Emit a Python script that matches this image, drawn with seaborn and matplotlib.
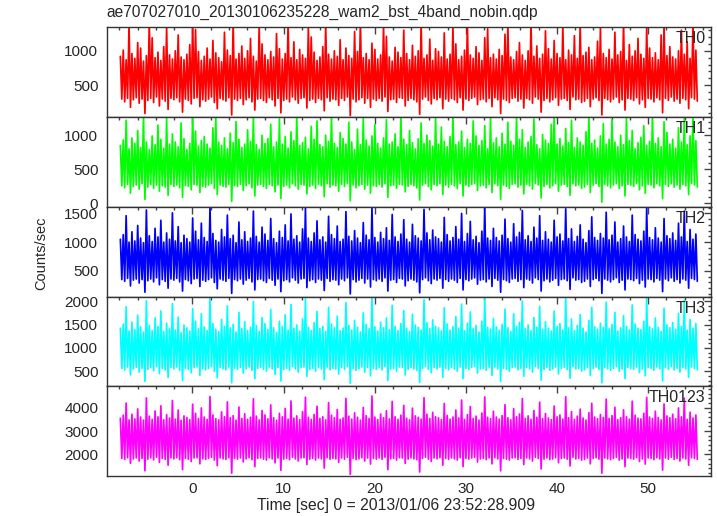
import numpy as np
import seaborn as sns
import matplotlib.pyplot as plt
from matplotlib.ticker import MultipleLocator

# light curve, WAM2 bst 4 band: upper (peak) and lower (trough) values
t_start = -7.9
t_stop = 55.4

th0_hi = [920, 1010, 870, 1380, 960, 890, 1120, 1040, 850, 930,
          1430, 1190, 900, 980, 860, 1060, 1350, 940, 880, 1000,
          1230, 910, 870, 950, 1090, 1400, 1310, 990, 860, 920,
          1040, 880, 1150, 970, 900, 840, 1270, 1010, 930, 1420,
          880, 960, 1070, 890, 1000, 1180, 920, 850, 1360, 1100,
          940, 870, 990, 910, 1250, 1030, 880, 960, 1410, 900,
          1130, 870, 1020, 940, 890, 1340, 1200, 980, 860, 910,
          1060, 1390, 950, 880, 1000, 920, 1160, 870, 1040, 930,
          890, 1280, 990, 1440, 900, 960, 870, 1110, 1020, 880,
          940, 1370, 1210, 910, 850, 1050, 980, 900, 1300, 960,
          870, 1080, 920, 1000, 1420, 890, 940, 1170, 860, 1030,
          990, 910, 1260, 880, 950, 1350, 1100, 870, 920, 1010,
          1400, 940, 890, 1060, 970, 860, 1190, 1320, 900, 950,
          880, 1020, 930, 1240, 1380, 910, 870, 990, 1120, 940,
          860, 1000, 1430, 920, 1070, 890, 950, 1290, 1030, 880,
          1150, 960, 900, 1360, 870, 1010, 940, 1220, 890, 1400,
          930, 980, 1050, 870, 910, 1140, 1330, 960, 900, 1020,
          880, 1270, 940, 990, 1410, 860, 1090, 920, 1000, 1180,
          950, 890, 1350, 1040, 900, 970, 870, 1230, 1390, 930,
          1060, 910, 880, 1000, 1300, 950, 1130, 890, 1420, 1010]
th0_lo = [300, 260, 310, 180, 290, 320, 240, 300, 90, 280,
          310, 250, 330, 200, 300, 270, 150, 310, 290, 320,
          260, 110, 300, 280, 230, 310, 320, 190, 290, 270,
          300, 330, 250, 160, 310, 290, 270, 320, 70, 300,
          280, 310, 220, 290, 320, 260, 140, 300, 310, 280,
          250, 320, 290, 200, 310, 100, 280, 300, 260, 330,
          290, 240, 310, 320, 170, 280, 300, 250, 310, 290,
          130, 320, 270, 300, 290, 210, 310, 280, 330, 60,
          300, 260, 290, 320, 240, 310, 180, 300, 280, 310,
          270, 330, 120, 290, 300, 250, 320, 310, 200, 280,
          310, 290, 260, 80, 300, 330, 280, 230, 310, 290,
          320, 160, 300, 270, 310, 290, 250, 320, 140, 300,
          280, 310, 330, 220, 290, 300, 260, 310, 190, 320,
          290, 90, 300, 280, 250, 310, 320, 270, 300, 170,
          310, 290, 240, 330, 300, 110, 280, 310, 260, 290,
          320, 210, 300, 310, 280, 150, 330, 290, 300, 250,
          270, 310, 190, 300, 320, 280, 70, 310, 290, 260,
          300, 330, 250, 290, 140, 310, 300, 280, 320, 230,
          290, 180, 310, 300, 260, 320, 290, 100, 310, 280,
          330, 270, 300, 240, 310, 290, 160, 320, 300, 270]

th1_hi = [850, 930, 1220, 800, 960, 880, 1070, 820, 1290, 900,
          790, 990, 860, 1150, 940, 810, 1250, 870, 1020, 900,
          830, 1180, 950, 790, 880, 1300, 1060, 840, 920, 980,
          870, 810, 1110, 1270, 900, 850, 960, 800, 1030, 890,
          1200, 940, 820, 870, 1080, 910, 1290, 860, 790, 1000,
          880, 950, 1160, 830, 900, 1240, 870, 980, 810, 1050,
          920, 1280, 850, 890, 970, 800, 1130, 940, 1210, 860,
          830, 1000, 910, 1300, 880, 820, 1040, 950, 870, 1190,
          900, 790, 1090, 860, 1260, 930, 840, 990, 1150, 880,
          810, 960, 1230, 870, 900, 1020, 830, 1290, 940, 860,
          1070, 890, 800, 950, 1180, 880, 1000, 920, 840, 1250,
          870, 1120, 910, 830, 980, 1300, 860, 900, 1060, 820,
          940, 880, 1210, 990, 850, 920, 1140, 800, 1270, 890,
          960, 830, 1030, 870, 1190, 910, 850, 1280, 940, 1080,
          820, 900, 980, 1240, 860, 800, 1010, 930, 880, 1160,
          1300, 870, 950, 840, 1100, 890, 1220, 820, 960, 900,
          850, 1050, 1290, 880, 930, 810, 990, 1170, 870, 940,
          1230, 900, 830, 1000, 860, 1260, 920, 1070, 800, 890,
          970, 1140, 850, 910, 1300, 880, 960, 830, 1200, 1040,
          870, 940, 810, 1110, 900, 1250, 860, 990, 1280, 920]
th1_lo = [260, 230, 280, 150, 250, 270, 210, 290, 60, 240,
          280, 220, 270, 180, 260, 240, 120, 280, 250, 270,
          230, 90, 260, 250, 200, 280, 270, 160, 250, 240,
          270, 290, 220, 130, 270, 250, 240, 280, 30, 260,
          250, 280, 190, 260, 290, 230, 110, 270, 280, 250,
          220, 280, 260, 170, 270, 70, 250, 270, 230, 290,
          260, 210, 280, 270, 140, 250, 270, 220, 280, 260,
          100, 290, 240, 270, 260, 180, 280, 250, 290, 40,
          270, 230, 260, 280, 210, 270, 150, 260, 250, 280,
          240, 290, 90, 260, 270, 220, 280, 270, 170, 250,
          280, 260, 230, 50, 270, 290, 250, 200, 280, 260,
          290, 130, 270, 240, 280, 260, 220, 290, 110, 270,
          250, 280, 290, 190, 260, 270, 230, 280, 160, 290,
          260, 60, 270, 250, 220, 280, 290, 240, 270, 140,
          280, 260, 210, 290, 270, 80, 250, 280, 230, 260,
          290, 180, 270, 280, 250, 120, 290, 260, 270, 220,
          240, 280, 160, 270, 290, 250, 20, 280, 260, 230,
          270, 290, 220, 260, 110, 280, 270, 250, 290, 200,
          260, 150, 280, 270, 230, 290, 260, 70, 280, 250,
          290, 240, 270, 210, 280, 260, 130, 290, 270, 240]

th2_hi = [1050, 1130, 1460, 1000, 1180, 1020, 1290, 1070, 990, 1560,
          1110, 1010, 1240, 1090, 1380, 1000, 1160, 1050, 1510, 1020,
          1270, 990, 1120, 1060, 1000, 1420, 1190, 1040, 1330, 1080,
          1010, 1600, 1150, 1030, 1000, 1220, 1090, 1470, 1060, 1120,
          990, 1350, 1040, 1180, 1010, 1070, 1540, 1100, 1000, 1260,
          1140, 1030, 1410, 1060, 990, 1190, 1080, 1300, 1020, 1490,
          1050, 1110, 1000, 1230, 1590, 1070, 1010, 1160, 1370, 1040,
          1090, 1000, 1450, 1130, 1060, 1280, 1010, 1050, 1530, 1100,
          1020, 1200, 1070, 990, 1340, 1120, 1040, 1610, 1080, 1000,
          1170, 1060, 1250, 1030, 1480, 1090, 1010, 1140, 1390, 1050,
          1000, 1310, 1110, 1070, 1020, 1570, 1160, 1040, 1210, 1090,
          1060, 1000, 1430, 1130, 1020, 1080, 1270, 1050, 1500, 1010,
          1150, 1360, 1040, 1100, 990, 1190, 1620, 1070, 1030, 1240,
          1080, 1020, 1120, 1400, 1060, 1000, 1320, 1090, 1170, 1550,
          1040, 1110, 1010, 1260, 1070, 1460, 1030, 1180, 1050, 1000,
          1380, 1090, 1140, 1020, 1580, 1060, 1230, 1010, 1100, 1300,
          1050, 990, 1200, 1440, 1080, 1030, 1150, 1070, 1520, 1040,
          1120, 1350, 1000, 1060, 1280, 1090, 1010, 1470, 1130, 1050,
          1020, 1190, 1600, 1080, 1040, 1250, 1070, 1000, 1410, 1110,
          1060, 1160, 1030, 1330, 1090, 1540, 1010, 1220, 1050, 1140]
th2_lo = [350, 320, 370, 240, 340, 360, 290, 350, 130, 330,
          360, 310, 380, 260, 350, 320, 200, 360, 340, 370,
          310, 150, 350, 330, 280, 360, 370, 230, 340, 320,
          350, 380, 300, 190, 360, 340, 320, 370, 110, 350,
          330, 360, 270, 340, 370, 310, 170, 350, 360, 330,
          300, 370, 340, 250, 360, 140, 330, 350, 310, 380,
          340, 290, 360, 370, 210, 330, 350, 300, 360, 340,
          160, 370, 320, 350, 340, 260, 360, 330, 380, 100,
          350, 310, 340, 370, 290, 360, 220, 350, 330, 360,
          320, 380, 150, 340, 350, 300, 370, 360, 240, 330,
          360, 340, 310, 120, 350, 380, 330, 280, 360, 340,
          370, 200, 350, 320, 360, 340, 300, 370, 170, 350,
          330, 360, 380, 270, 340, 350, 310, 360, 230, 370,
          340, 130, 350, 330, 300, 360, 370, 320, 350, 210,
          360, 340, 290, 380, 350, 150, 330, 360, 310, 340,
          370, 250, 350, 360, 330, 180, 380, 340, 350, 300,
          320, 360, 230, 350, 370, 330, 110, 360, 340, 310,
          350, 380, 300, 340, 170, 360, 350, 330, 370, 280,
          340, 220, 360, 350, 310, 370, 340, 140, 360, 330,
          380, 320, 350, 290, 360, 340, 200, 370, 350, 320]

th3_hi = [1420, 1510, 1880, 1360, 1550, 1390, 1700, 1450, 1340, 2010,
          1480, 1370, 1640, 1460, 1790, 1350, 1530, 1420, 1950, 1380,
          1660, 1330, 1490, 1430, 1360, 1840, 1570, 1410, 1730, 1450,
          1370, 2080, 1520, 1400, 1350, 1610, 1460, 1900, 1430, 1500,
          1340, 1760, 1410, 1560, 1370, 1440, 1990, 1480, 1350, 1650,
          1520, 1390, 1820, 1430, 1330, 1570, 1460, 1710, 1380, 1930,
          1420, 1490, 1360, 1620, 2050, 1440, 1370, 1540, 1780, 1410,
          1460, 1350, 1870, 1510, 1430, 1680, 1370, 1420, 1970, 1480,
          1380, 1590, 1440, 1340, 1750, 1500, 1410, 2100, 1450, 1360,
          1550, 1430, 1640, 1390, 1910, 1460, 1370, 1520, 1800, 1420,
          1350, 1720, 1490, 1440, 1380, 2030, 1540, 1410, 1600, 1460,
          1430, 1360, 1860, 1510, 1380, 1450, 1670, 1420, 1940, 1370,
          1530, 1770, 1410, 1480, 1340, 1570, 2090, 1440, 1400, 1630,
          1450, 1380, 1500, 1830, 1430, 1350, 1730, 1460, 1550, 2000,
          1410, 1490, 1370, 1650, 1440, 1890, 1400, 1560, 1420, 1360,
          1790, 1460, 1520, 1380, 2060, 1430, 1620, 1370, 1480, 1710,
          1420, 1340, 1590, 1870, 1450, 1400, 1530, 1440, 1980, 1410,
          1500, 1760, 1360, 1430, 1690, 1460, 1380, 1920, 1510, 1420,
          1390, 1570, 2070, 1450, 1410, 1640, 1440, 1350, 1850, 1490,
          1430, 1540, 1400, 1740, 1460, 2020, 1380, 1610, 1420, 1520]
th3_lo = [560, 530, 590, 420, 550, 580, 480, 560, 280, 540,
          580, 510, 600, 450, 560, 530, 370, 580, 550, 590,
          520, 300, 560, 540, 470, 580, 590, 410, 550, 530,
          560, 600, 500, 360, 580, 550, 530, 590, 250, 560,
          540, 580, 460, 550, 590, 520, 340, 560, 580, 540,
          500, 590, 550, 430, 580, 290, 540, 560, 520, 600,
          550, 480, 580, 590, 390, 540, 560, 500, 580, 550,
          320, 590, 530, 560, 550, 440, 580, 540, 600, 240,
          560, 520, 550, 590, 480, 580, 400, 560, 540, 580,
          530, 600, 300, 550, 560, 500, 590, 580, 420, 540,
          580, 550, 520, 260, 560, 600, 540, 470, 580, 550,
          590, 370, 560, 530, 580, 550, 500, 590, 340, 560,
          540, 580, 600, 460, 550, 560, 520, 580, 410, 590,
          550, 280, 560, 540, 500, 580, 590, 530, 560, 390,
          580, 550, 480, 600, 560, 310, 540, 580, 520, 550,
          590, 440, 560, 580, 540, 350, 600, 550, 560, 500,
          530, 580, 410, 560, 590, 540, 250, 580, 550, 520,
          560, 600, 500, 550, 340, 580, 560, 540, 590, 470,
          550, 400, 580, 560, 520, 590, 550, 290, 580, 540,
          600, 530, 560, 480, 580, 550, 370, 590, 560, 530]

th0123_hi = [3550, 3680, 4200, 3480, 3720, 3520, 3950, 3600, 3470, 4420,
             3640, 3500, 3860, 3610, 4080, 3480, 3700, 3560, 4310, 3510,
             3900, 3460, 3650, 3580, 3490, 4150, 3760, 3540, 3990, 3600,
             3500, 4480, 3690, 3530, 3480, 3820, 3610, 4250, 3570, 3660,
             3470, 4030, 3540, 3740, 3500, 3590, 4380, 3640, 3480, 3880,
             3690, 3520, 4120, 3570, 3460, 3760, 3610, 3970, 3510, 4290,
             3550, 3650, 3490, 3830, 4450, 3590, 3500, 3710, 4060, 3540,
             3610, 3480, 4220, 3680, 3570, 3920, 3500, 3560, 4400, 3640,
             3510, 3780, 3590, 3470, 4010, 3660, 3540, 4500, 3600, 3490,
             3730, 3570, 3870, 3520, 4270, 3610, 3500, 3680, 4100, 3550,
             3480, 3980, 3650, 3590, 3510, 4430, 3720, 3540, 3800, 3610,
             3570, 3490, 4180, 3670, 3510, 3600, 3900, 3560, 4330, 3500,
             3700, 4050, 3540, 3640, 3470, 3770, 4460, 3590, 3530, 3850,
             3600, 3510, 3660, 4130, 3570, 3480, 3960, 3610, 3730, 4390,
             3540, 3650, 3500, 3880, 3590, 4240, 3530, 3750, 3560, 3490,
             4070, 3610, 3690, 3510, 4470, 3570, 3830, 3500, 3640, 3940,
             3560, 3470, 3790, 4190, 3600, 3530, 3710, 3580, 4370, 3540,
             3660, 4020, 3490, 3570, 3910, 3610, 3510, 4280, 3680, 3550,
             3520, 3760, 4440, 3600, 3540, 3850, 3580, 3480, 4160, 3650,
             3570, 3720, 3530, 3990, 3610, 4410, 3500, 3810, 3560, 3690]
th0123_lo = [1830, 1790, 1860, 1620, 1810, 1850, 1720, 1830, 1300, 1800,
             1850, 1770, 1880, 1660, 1830, 1790, 1540, 1850, 1810, 1860,
             1780, 1350, 1830, 1800, 1700, 1850, 1860, 1600, 1810, 1790,
             1830, 1880, 1760, 1520, 1850, 1810, 1790, 1860, 1200, 1830,
             1800, 1850, 1680, 1810, 1860, 1780, 1480, 1830, 1850, 1800,
             1760, 1860, 1810, 1640, 1850, 1320, 1800, 1830, 1780, 1880,
             1810, 1720, 1850, 1860, 1570, 1800, 1830, 1760, 1850, 1810,
             1420, 1860, 1790, 1830, 1810, 1660, 1850, 1800, 1880, 1150,
             1830, 1780, 1810, 1860, 1720, 1850, 1590, 1830, 1800, 1850,
             1790, 1880, 1350, 1810, 1830, 1760, 1860, 1850, 1620, 1800,
             1850, 1810, 1780, 1250, 1830, 1880, 1800, 1700, 1850, 1810,
             1860, 1540, 1830, 1790, 1850, 1810, 1760, 1860, 1480, 1830,
             1800, 1850, 1880, 1680, 1810, 1830, 1780, 1850, 1600, 1860,
             1810, 1300, 1830, 1800, 1760, 1850, 1860, 1790, 1830, 1570,
             1850, 1810, 1720, 1880, 1830, 1380, 1800, 1850, 1780, 1810,
             1860, 1650, 1830, 1850, 1800, 1510, 1880, 1810, 1830, 1760,
             1790, 1850, 1600, 1830, 1860, 1800, 1200, 1850, 1810, 1780,
             1830, 1880, 1760, 1810, 1480, 1850, 1830, 1800, 1860, 1700,
             1810, 1590, 1850, 1830, 1780, 1860, 1810, 1330, 1850, 1800,
             1880, 1790, 1830, 1720, 1850, 1810, 1540, 1860, 1830, 1790]

bands = ["TH0", "TH1", "TH2", "TH3", "TH0123"]
highs = [th0_hi, th1_hi, th2_hi, th3_hi, th0123_hi]
lows = [th0_lo, th1_lo, th2_lo, th3_lo, th0123_lo]
colors = ["#ff0000", "#00ff00", "#0000ff", "#00ffff", "#ff00ff"]
ylims = [(38, 1341), (-50, 1267), (54, 1615), (177, 2101), (1077, 4919)]
yticks = [[500, 1000], [0, 500, 1000], [500, 1000, 1500], [500, 1000, 1500, 2000], [2000, 3000, 4000]]
yminor = [100, 100, 100, 100, 200]

sns.set_style("white")
plt.rcParams['font.family'] = ['Liberation Sans', 'DejaVu Sans']
plt.rcParams['font.size'] = 11

fig, axes = plt.subplots(5, 1, sharex=True, figsize=(7.17, 5.16), dpi=100)
fig.subplots_adjust(left=0.1488, right=0.9916, top=0.947, bottom=0.0775, hspace=0)

for i, ax in enumerate(axes):
    # peak, trough, peak, trough ... as one light curve
    rate = np.column_stack([highs[i], lows[i]]).ravel()
    t = np.linspace(t_start, t_stop, len(rate))
    sns.lineplot(x=t, y=rate, ax=ax, color=colors[i], linewidth=1.25, sort=False)
    ax.set_ylim(ylims[i])
    ax.set_yticks(yticks[i])
    ax.yaxis.set_minor_locator(MultipleLocator(yminor[i]))
    ax.xaxis.set_major_locator(MultipleLocator(10))
    ax.xaxis.set_minor_locator(MultipleLocator(2))
    ax.tick_params(which="both", direction="in", top=True, right=True, color="#444444", width=1)
    ax.tick_params(which="major", length=5, pad=6, labelsize=11)
    ax.tick_params(which="minor", length=2.5)
    ax.tick_params(axis="x", pad=4)
    for s in ax.spines.values():
        s.set_color("#333333")
        s.set_linewidth(1)
    ax.text(0.991, 0.955, bands[i], transform=ax.transAxes, ha="right", va="top", fontsize=11.5)
    ax.set_ylabel("")

axes[-1].set_xlim(-9.4, 56.9)
axes[-1].set_xlabel("Time [sec] 0 = 2013/01/06 23:52:28.909", fontsize=11.3, labelpad=2, x=0.479)
fig.text(0.057, 0.51, "Counts/sec", rotation=90, ha="center", va="center", fontsize=10.5)
fig.text(0.1488, 0.976, "ae707027010_20130106235228_wam2_bst_4band_nobin.qdp", ha="left", va="center", fontsize=11.2)

plt.savefig("out.png", dpi=100)
